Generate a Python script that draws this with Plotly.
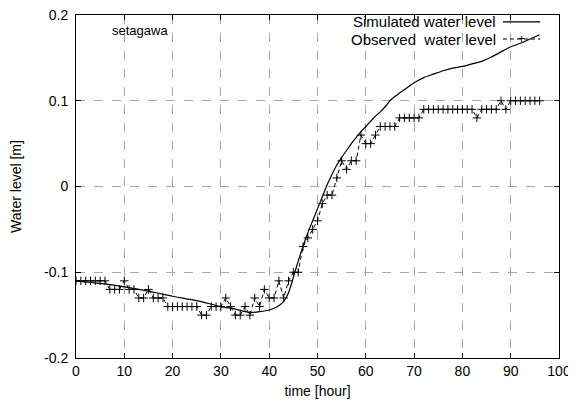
import plotly.graph_objects as go

# Observed water level (hourly)
obs_hours = list(range(0, 97))
obs_level = (
    [-0.11] * 7 +            # 0-6
    [-0.12] * 3 +            # 7-9
    [-0.11] +                # 10
    [-0.12] * 2 +            # 11-12
    [-0.13] * 2 +            # 13-14
    [-0.12] +                # 15
    [-0.13] * 3 +            # 16-18
    [-0.14] * 7 +            # 19-25
    [-0.15] * 2 +            # 26-27
    [-0.14] * 3 +            # 28-30
    [-0.13, -0.14, -0.15, -0.15, -0.14, -0.15, -0.13, -0.14, -0.12,   # 31-39
     -0.13, -0.13, -0.11, -0.13, -0.11, -0.10, -0.10,                 # 40-46
     -0.07, -0.06, -0.05, -0.04, -0.02, -0.01, -0.01,                 # 47-53
     0.01, 0.03, 0.02, 0.03, 0.03, 0.06, 0.05, 0.05, 0.06] +          # 54-62
    [0.07] * 4 +             # 63-66
    [0.08] * 5 +             # 67-71
    [0.09] * 11 +            # 72-82
    [0.08] +                 # 83
    [0.09] * 4 +             # 84-87
    [0.10, 0.09] +           # 88-89
    [0.10] * 7               # 90-96
)

# Simulated water level
sim_hours = [0, 5, 10, 15, 20, 25, 30, 33, 36, 38, 40, 42, 43, 44, 45, 46, 47, 48,
             49, 50, 51, 52, 53, 54, 55, 56, 57, 58, 59, 60, 61, 62, 63, 64, 65,
             66, 67, 68, 70, 72, 74, 76, 78, 80, 82, 84, 86, 88, 90, 92, 94, 96]
sim_level = [-0.110, -0.113, -0.117, -0.122, -0.128, -0.133, -0.140, -0.143, -0.147,
             -0.146, -0.144, -0.139, -0.134, -0.124, -0.106, -0.087, -0.070, -0.054,
             -0.040, -0.026, -0.012, 0.002, 0.014, 0.025, 0.034, 0.042, 0.050, 0.057,
             0.064, 0.070, 0.076, 0.082, 0.087, 0.093, 0.100, 0.105, 0.109, 0.113,
             0.121, 0.127, 0.131, 0.135, 0.138, 0.140, 0.143, 0.146, 0.151, 0.157,
             0.163, 0.167, 0.172, 0.177]

x_ticks = [0, 10, 20, 30, 40, 50, 60, 70, 80, 90, 100]
y_ticks = [-0.2, -0.1, 0, 0.1, 0.2]
y_tick_labels = ["-0.2", "-0.1", "0", "0.1", "0.2"]

FONT = "Liberation Sans, Arial, sans-serif"
FS = 14

fig = go.Figure()
fig.add_trace(go.Scatter(
    x=sim_hours, y=sim_level, mode="lines", name="Simulated water level",
    line=dict(color="black", width=1.2, shape="spline", smoothing=0.6), showlegend=False))
fig.add_trace(go.Scatter(
    x=obs_hours, y=obs_level, mode="lines+markers", name="Observed  water level",
    line=dict(color="black", width=1, dash="4px,3px"),
    marker=dict(symbol="cross-thin", size=6, line=dict(color="black", width=1)),
    showlegend=False))

axis_common = dict(
    showline=True, linecolor="black", linewidth=1, mirror="ticks",
    ticks="inside", ticklen=5, tickcolor="black",
    showgrid=True, gridcolor="#a8a8a8", griddash="dash", gridwidth=1,
    zeroline=False, automargin=False, ticklabeloverflow="allow",
    tickfont=dict(family=FONT, size=FS, color="black"),
)

fig.update_xaxes(range=[0, 100], tickvals=x_ticks, **axis_common,
                 title=dict(text="time [hour]", font=dict(family=FONT, size=FS, color="black"),
                            standoff=8))
fig.update_yaxes(range=[-0.2, 0.2], tickvals=y_ticks, ticktext=y_tick_labels,
                 ticklabelstandoff=4, **axis_common,
                 title=dict(text="Water level [m]", font=dict(family=FONT, size=FS, color="black"),
                            standoff=20))

# gnuplot-style key (text right-aligned, sample on the right)
fig.add_annotation(xref="paper", yref="paper", x=0.874, y=0.980, xanchor="right",
                   yanchor="middle", showarrow=False, text="Simulated water level",
                   font=dict(family=FONT, size=15, color="black"))
fig.add_annotation(xref="paper", yref="paper", x=0.874, y=0.930, xanchor="right",
                   yanchor="middle", showarrow=False, text="Observed&nbsp;&nbsp;water level",
                   font=dict(family=FONT, size=15, color="black"))
fig.add_shape(type="line", xref="paper", yref="paper", x0=0.884, x1=0.961, y0=0.980, y1=0.980,
              line=dict(color="black", width=1.2))
fig.add_shape(type="line", xref="paper", yref="paper", x0=0.884, x1=0.961, y0=0.930, y1=0.930,
              line=dict(color="black", width=1, dash="4px,3px"))
fig.add_annotation(xref="paper", yref="paper", x=0.9225, y=0.930, xanchor="center",
                   yanchor="middle", showarrow=False, text="+",
                   font=dict(family=FONT, size=12, color="black"))

fig.add_annotation(xref="paper", yref="paper", x=0.070, y=0.956, xanchor="left",
                   yanchor="middle", showarrow=False, text="setagawa",
                   font=dict(family=FONT, size=13, color="black"))

# the page body has an 8px margin, so margins are offset by 8px
fig.update_layout(
    width=576, height=406,
    margin=dict(l=68, r=25, t=7, b=56),
    plot_bgcolor="white", paper_bgcolor="white",
    font=dict(family=FONT, size=FS, color="black"),
)

fig.write_html("out.html")
